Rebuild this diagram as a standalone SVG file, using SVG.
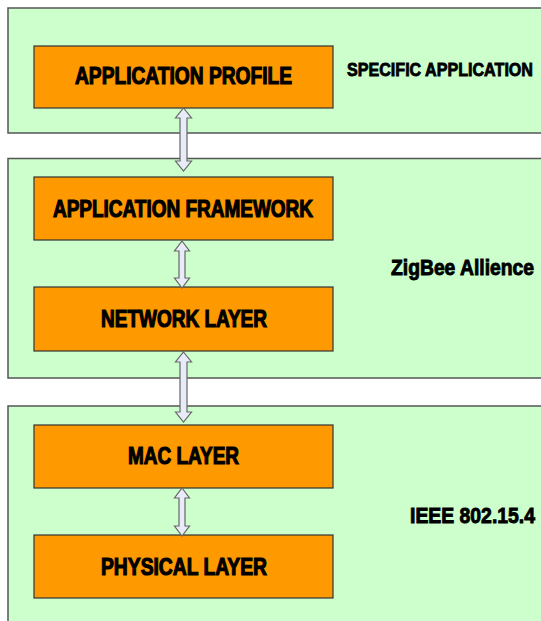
<svg xmlns="http://www.w3.org/2000/svg" width="541" height="621" viewBox="0 0 541 621">
<style>
.panel{fill:#CCFFCC;stroke:none}
.edge{fill:none;stroke:#555;stroke-width:1.5}
.box{fill:#FF9900;stroke:#333;stroke-width:1.2}
.arrow{fill:#E8ECF8;stroke:#666;stroke-width:1.2;stroke-linejoin:miter}
.t{font-family:"Liberation Sans",Arial,sans-serif;font-weight:bold;fill:#000;stroke:#000;stroke-width:1.2}
.big{font-size:24px}
.side{font-size:15.6px;stroke-width:0.7}
.side2{font-size:19.2px;stroke-width:0.8}
</style>
<rect width="541" height="621" fill="#fff"/>
<g id="panel-specific">
<rect class="panel" x="8" y="8" width="533" height="125"/>
<path class="edge" d="M541,8 H8 V133 H541"/>
<text class="t side" transform="translate(347,76) scale(1,1.16)" x="0" y="0" textLength="186" lengthAdjust="spacingAndGlyphs">SPECIFIC APPLICATION</text>
</g>
<g id="panel-zigbee">
<rect class="panel" x="8" y="158.5" width="533" height="219.5"/>
<path class="edge" d="M541,158.5 H8 V378 H541"/>
<text class="t side2" transform="translate(391,275) scale(1,1.16)" x="0" y="0" textLength="143" lengthAdjust="spacingAndGlyphs">ZigBee Allience</text>
</g>
<g id="panel-ieee">
<rect class="panel" x="8" y="406" width="533" height="215"/>
<path class="edge" d="M541,406 H8 V621"/>
<text class="t side2" transform="translate(410,523) scale(1,1.16)" x="0" y="0" textLength="125" lengthAdjust="spacingAndGlyphs">IEEE 802.15.4</text>
</g>
<g id="app-profile">
<rect class="box" x="34" y="46" width="299" height="62"/>
<text class="t big" x="75" y="84" textLength="217" lengthAdjust="spacingAndGlyphs">APPLICATION PROFILE</text>
</g>
<g id="app-framework">
<rect class="box" x="34" y="177" width="299" height="63"/>
<text class="t big" x="53" y="217" textLength="260" lengthAdjust="spacingAndGlyphs">APPLICATION FRAMEWORK</text>
</g>
<g id="network-layer">
<rect class="box" x="34" y="287" width="299" height="64"/>
<text class="t big" x="101" y="327" textLength="166" lengthAdjust="spacingAndGlyphs">NETWORK LAYER</text>
</g>
<g id="mac-layer">
<rect class="box" x="34" y="425" width="299" height="63"/>
<text class="t big" x="128" y="464" textLength="111" lengthAdjust="spacingAndGlyphs">MAC LAYER</text>
</g>
<g id="physical-layer">
<rect class="box" x="34" y="535" width="299" height="63"/>
<text class="t big" x="101" y="575" textLength="166" lengthAdjust="spacingAndGlyphs">PHYSICAL LAYER</text>
</g>
<g id="connectors">
<path class="arrow" d="M183.5,108 L191.5,118 L187,118 L187,161 L191.5,161 L183.5,171 L175.5,161 L180,161 L180,118 L175.5,118 Z"/>
<path class="arrow" d="M182,241 L189.5,251 L185,251 L185,278 L189.5,278 L182,288 L174.5,278 L179,278 L179,251 L174.5,251 Z"/>
<path class="arrow" d="M183.5,352 L191.5,362 L187,362 L187,412 L191.5,412 L183.5,422 L175.5,412 L180,412 L180,362 L175.5,362 Z"/>
<path class="arrow" d="M182,488 L189.5,498 L185,498 L185,526 L189.5,526 L182,536 L174.5,526 L179,526 L179,498 L174.5,498 Z"/>
</g>
</svg>
